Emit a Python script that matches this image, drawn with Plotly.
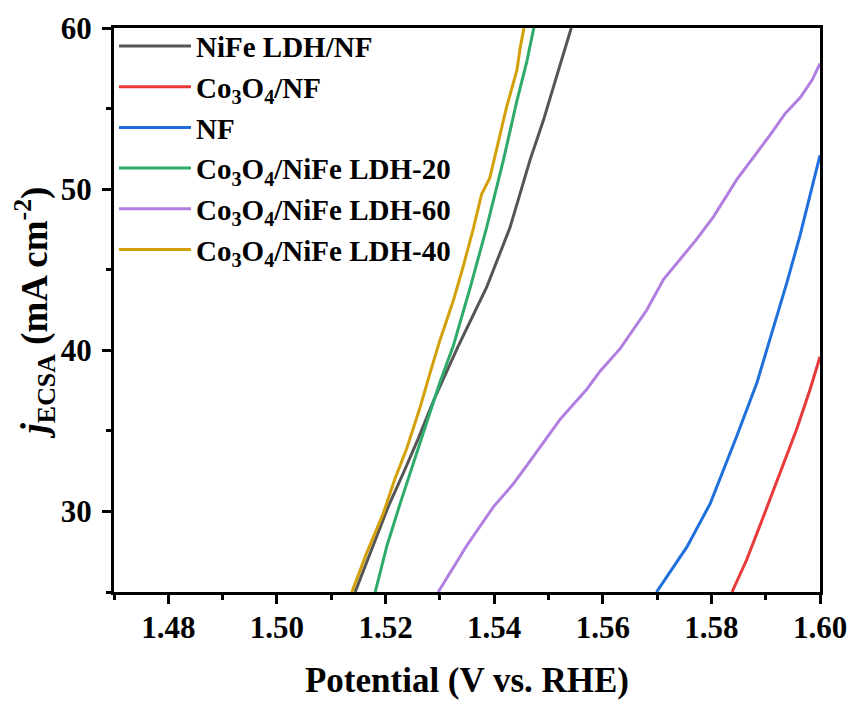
import plotly.graph_objects as go

# ---- data ----
v_nife = [1.5144, 1.5171, 1.5205, 1.5233, 1.5260, 1.5290, 1.5312, 1.5333, 1.5386, 1.5429,
          1.5466, 1.5491, 1.5515, 1.5542]
j_nife = [25.0, 27.4, 30.3, 32.4, 34.5, 37.0, 38.6, 40.2, 43.9, 47.6,
          51.8, 54.3, 57.0, 60.0]

v_co = [1.5838, 1.5865, 1.5896, 1.5927, 1.5957, 1.5982, 1.6000]
j_co = [25.0, 27.0, 29.7, 32.4, 35.1, 37.6, 39.6]

v_nf = [1.5699, 1.5755, 1.5798, 1.5847, 1.5884, 1.5914, 1.5939, 1.5963, 1.5982, 1.6000]
j_nf = [25.0, 27.8, 30.5, 34.7, 38.0, 41.3, 44.2, 47.1, 49.6, 52.1]

v_20 = [1.5181, 1.5202, 1.5227, 1.5251, 1.5276, 1.5300, 1.5325, 1.5356, 1.5386, 1.5417,
        1.5442, 1.5460, 1.5473]
j_20 = [25.0, 27.8, 30.5, 33.0, 35.5, 38.0, 40.3, 43.9, 47.6, 51.8,
        55.5, 57.9, 60.0]

v_60 = [1.5297, 1.5350, 1.5399, 1.5435, 1.5472, 1.5521, 1.5571, 1.5595, 1.5632, 1.5681,
        1.5712, 1.5773, 1.5804, 1.5847, 1.5909, 1.5936, 1.5964, 1.5986, 1.6000]
j_60 = [25.0, 27.9, 30.3, 31.7, 33.4, 35.7, 37.6, 38.7, 40.1, 42.5,
        44.4, 46.9, 48.3, 50.6, 53.4, 54.7, 55.7, 56.8, 57.8]

v_40 = [1.5138, 1.5165, 1.5196, 1.5217, 1.5239, 1.5264, 1.5282, 1.5299, 1.5325, 1.5343,
        1.5362, 1.5377, 1.5392, 1.5405, 1.5423, 1.5442, 1.5448, 1.5455]
j_40 = [25.0, 27.4, 29.9, 32.0, 33.9, 36.5, 38.6, 40.5, 43.1, 45.2,
        47.6, 49.7, 50.7, 52.6, 55.1, 57.4, 58.8, 60.0]

names = ["NiFe LDH/NF",
         "Co<sub>3</sub>O<sub>4</sub>/NF",
         "NF",
         "Co<sub>3</sub>O<sub>4</sub>/NiFe LDH-20",
         "Co<sub>3</sub>O<sub>4</sub>/NiFe LDH-60",
         "Co<sub>3</sub>O<sub>4</sub>/NiFe LDH-40"]
colors = ["#555555", "#e8393a", "#1f6fdc", "#2eaa6a", "#b27ee0", "#d4a00a"]
series = [(v_nife, j_nife), (v_co, j_co), (v_nf, j_nf), (v_20, j_20), (v_60, j_60), (v_40, j_40)]

x_ticks = [1.48, 1.50, 1.52, 1.54, 1.56, 1.58, 1.60]
y_ticks = [30, 40, 50, 60]

FONT = "Liberation Serif, Times New Roman, serif"

fig = go.Figure()
for (vx, jy), nm, c in zip(series, names, colors):
    fig.add_trace(go.Scatter(x=vx, y=jy, mode="lines", name=nm,
                             line=dict(color=c, width=3)))

fig.update_layout(
    width=853, height=704,
    margin=dict(l=114, r=33, t=28, b=112),
    paper_bgcolor="white", plot_bgcolor="white",
    font=dict(family=FONT, color="black", size=30, weight="bold"),
    showlegend=True,
    legend=dict(x=0.0, y=1.013, xanchor="left", yanchor="top",
                bgcolor="rgba(0,0,0,0)", borderwidth=0,
                font=dict(family=FONT, size=29, color="black", weight="bold"),
                tracegroupgap=0, itemwidth=72),
)
fig.update_xaxes(
    range=[1.47, 1.60], tickvals=x_ticks, ticktext=[f"{t:.2f}" for t in x_ticks],
    automargin=False,
    showline=True, linecolor="black", linewidth=3, mirror=True,
    ticks="outside", ticklen=9, tickwidth=3, tickcolor="black",
    minor=dict(dtick=0.01, tick0=1.47, ticks="outside", ticklen=5, tickwidth=3, tickcolor="black"),
    showgrid=False, zeroline=False,
    tickfont=dict(family=FONT, size=31, color="black", weight="bold"),
    ticklabelstandoff=-3,
    title=dict(text="Potential (V vs. RHE)", standoff=24,
               font=dict(family=FONT, size=35, color="black", weight="bold")),
)
fig.update_yaxes(
    range=[25, 60], tickvals=y_ticks,
    automargin=False,
    showline=True, linecolor="black", linewidth=3, mirror=True,
    ticks="outside", ticklen=9, tickwidth=3, tickcolor="black",
    minor=dict(dtick=5, tick0=25, ticks="outside", ticklen=5, tickwidth=3, tickcolor="black"),
    showgrid=False, zeroline=False,
    tickfont=dict(family=FONT, size=31, color="black", weight="bold"),
    ticklabelstandoff=4,
    title=dict(text="<i>j</i><sub>ECSA</sub> (mA cm<sup>-2</sup>)", standoff=0,
               font=dict(family=FONT, size=37, color="black", weight="bold")),
)

fig.write_html("out.html")
